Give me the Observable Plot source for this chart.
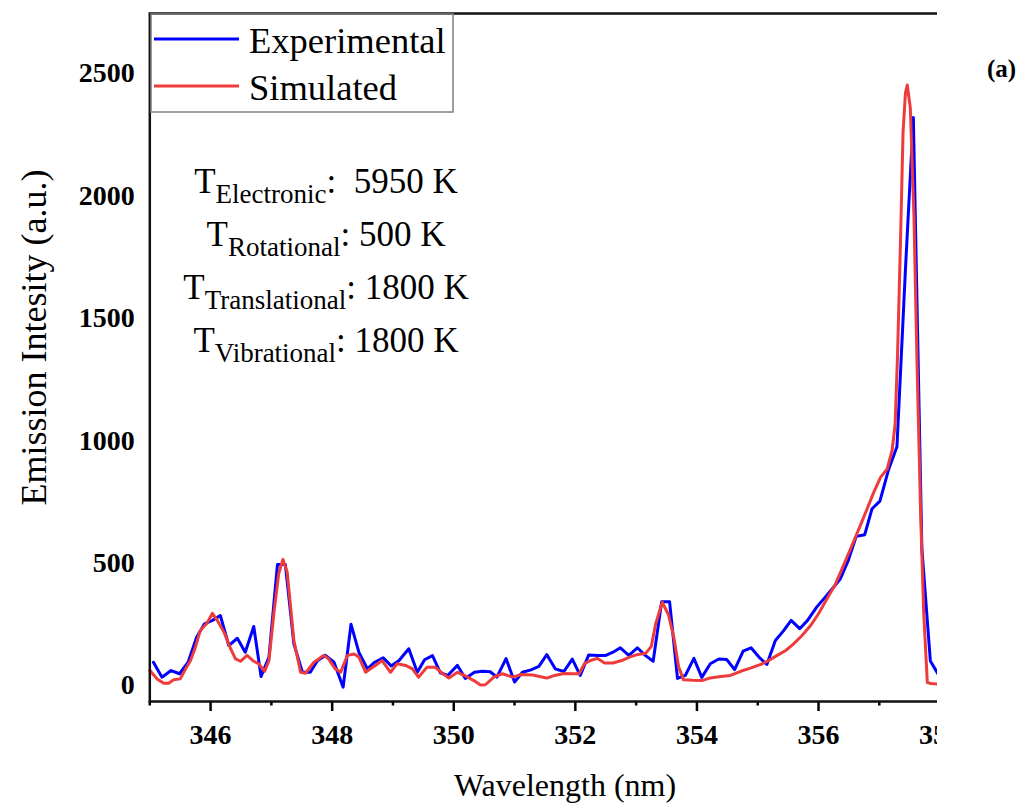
<!DOCTYPE html>
<html>
<head>
<meta charset="utf-8">
<script src="https://cdn.jsdelivr.net/npm/d3@7"></script>
<script src="https://cdn.jsdelivr.net/npm/@observablehq/plot@0.6"></script>
<style>
  html, body { margin: 0; padding: 0; background: #fff; }
  #fig { position: relative; width: 1021px; height: 806px; overflow: hidden; background: #fff;
         font-family: "Liberation Serif", "Times New Roman", serif; }
  #clip { position: absolute; left: 0; top: 0; width: 937px; height: 806px; overflow: hidden; }
  #tag { position: absolute; left: 987px; top: 56px; font-weight: bold; font-size: 25px; line-height: 25px; }
</style>
</head>
<body>
<div id="fig"><div id="clip"></div><div id="tag">(a)</div></div>
<script>
// Experimental emission spectrum (wavelength in nm, intensity in a.u.)
const expWavelength = [
  345.06, 345.20, 345.35, 345.49, 345.63, 345.77, 345.90, 346.03, 346.16, 346.30,
  346.44, 346.57, 346.71, 346.83, 346.96, 347.10, 347.23, 347.37, 347.51, 347.64,
  347.76, 347.89, 348.03, 348.18, 348.31, 348.44, 348.58, 348.70, 348.84, 348.97,
  349.10, 349.26, 349.40, 349.52, 349.65, 349.78, 349.90, 350.06, 350.19, 350.34,
  350.47, 350.60, 350.71, 350.86, 351.00, 351.13, 351.27, 351.40, 351.53, 351.67,
  351.81, 351.95, 352.08, 352.22, 352.36, 352.50, 352.62, 352.74, 352.88, 353.02,
  353.15, 353.28, 353.42, 353.55, 353.68, 353.81, 353.95, 354.08, 354.22, 354.36,
  354.49, 354.62, 354.76, 354.89, 355.02, 355.15, 355.29, 355.42, 355.55, 355.69,
  355.82, 355.97, 356.11, 356.24, 356.36, 356.49, 356.62, 356.76, 356.88, 357.01,
  357.15, 357.29, 357.43, 357.56, 357.70, 357.84, 357.97
];
const expIntensity = [
  95, 34, 61, 48, 95, 197, 252, 266, 286, 163,
  193, 136, 241, 37, 116, 494, 494, 170, 54, 54,
  102, 123, 95, -7, 250, 135, 68, 95, 113, 80,
  102, 150, 54, 105, 122, 52, 41, 82, 29, 54,
  58, 56, 34, 110, 14, 54, 64, 78, 126, 68,
  57, 108, 41, 125, 123, 123, 136, 154, 123, 154,
  123, 99, 342, 342, 29, 41, 111, 33, 89, 108,
  106, 65, 140, 154, 116, 86, 184, 222, 266, 232,
  266, 320, 361, 399, 436, 511, 609, 616, 722, 753,
  880, 975, 1700, 2320, 560, 100, 45
];

// Simulated spectrum
const simWavelength = [
  345.00, 345.04, 345.12, 345.23, 345.31, 345.39, 345.50, 345.59, 345.67, 345.75,
  345.83, 345.94, 346.03, 346.11, 346.22, 346.33, 346.41, 346.49, 346.60, 346.71,
  346.79, 346.89, 346.96, 347.04, 347.12, 347.19, 347.26, 347.37, 347.48, 347.56,
  347.70, 347.86, 347.94, 348.05, 348.14, 348.25, 348.36, 348.44, 348.55, 348.63,
  348.71, 348.82, 348.96, 349.07, 349.21, 349.32, 349.42, 349.56, 349.70, 349.81,
  349.92, 350.06, 350.20, 350.33, 350.44, 350.52, 350.66, 350.80, 350.97, 351.11,
  351.30, 351.43, 351.53, 351.66, 351.81, 351.95, 352.06, 352.15, 352.25, 352.36,
  352.48, 352.62, 352.76, 352.90, 353.03, 353.16, 353.25, 353.32, 353.43, 353.53,
  353.62, 353.70, 353.78, 353.93, 354.08, 354.22, 354.39, 354.55, 354.72, 354.88,
  355.05, 355.18, 355.32, 355.46, 355.59, 355.73, 355.87, 356.00, 356.14, 356.28,
  356.41, 356.55, 356.69, 356.80, 356.91, 357.02, 357.13, 357.21, 357.26, 357.30,
  357.35, 357.39, 357.43, 357.46, 357.51, 357.57, 357.62, 357.68, 357.73, 357.79,
  357.85, 357.97
];
const simIntensity = [
  62, 50, 27, 9, 9, 23, 27, 68, 102, 156,
  225, 254, 295, 266, 218, 150, 109, 99, 123, 99,
  89, 58, 102, 293, 456, 515, 463, 184, 54, 50,
  95, 123, 109, 68, 54, 123, 129, 116, 54, 68,
  82, 102, 54, 89, 82, 68, 34, 75, 74, 50,
  31, 54, 38, 20, 2, 3, 34, 48, 34, 45,
  43, 36, 30, 41, 49, 48, 48, 89, 102, 111,
  92, 92, 102, 117, 127, 132, 160, 250, 340, 290,
  197, 75, 23, 21, 20, 31, 37, 41, 58, 71,
  86, 102, 123, 143, 170, 204, 245, 293, 354, 415,
  490, 572, 655, 722, 790, 850, 885, 960, 1066, 1350,
  1831, 2257, 2420, 2453, 2359, 1917, 1321, 700, 299, 12,
  8, 6
];

const xMajorTicks = [346, 348, 350, 352, 354, 356, 358];
const xMinorTicks = [345, 347, 349, 351, 353, 355, 357];
const yTicks = [0, 500, 1000, 1500, 2000, 2500];

const seriesNames = ["Experimental", "Simulated"];
const seriesColors = ["#0000ff", "#ee3b3b"];

const tempNames = ["Electronic", "Rotational", "Translational", "Vibrational"];
const tempSeparators = [":  ", ": ", ": ", ": "];
const tempValues = ["5950 K", "500 K", "1800 K", "1800 K"];

const xTitle = "Wavelength (nm)";
const yTitle = "Emission Intesity (a.u.)";

const FONT = '"Liberation Serif", "Times New Roman", serif';
const W = 1021, H = 806;

const experimental = expWavelength.map((x, i) => ({x, y: expIntensity[i]}));
const simulated = simWavelength.map((x, i) => ({x, y: simIntensity[i]}));

const chart = Plot.plot({
  width: W,
  height: H,
  marginLeft: 149.3,
  marginRight: W - 939.6,
  marginTop: 13,
  marginBottom: H - 701,
  style: {fontFamily: FONT, background: "#fff", maxWidth: "none", overflow: "visible", color: "#000"},
  x: {domain: [345, 358], label: null},
  y: {domain: [-65.4, 2745], label: null},
  marks: [
    Plot.line(experimental, {x: "x", y: "y", stroke: seriesColors[0], strokeWidth: 3, strokeLinejoin: "round"}),
    Plot.line(simulated, {x: "x", y: "y", stroke: seriesColors[1], strokeWidth: 3, strokeLinejoin: "round"}),
    Plot.axisX(xMajorTicks, {tickSize: 10, tickPadding: 13, fontSize: 28, fontWeight: "bold",
      strokeWidth: 2.5, tickFormat: d => String(d), label: null}),
    Plot.axisX(xMinorTicks, {tickSize: 4.5, tickFormat: () => "", strokeWidth: 2.5, label: null}),
    Plot.axisY(yTicks, {tickSize: 0, tickPadding: 15, fontSize: 28, fontWeight: "bold",
      tickFormat: d => String(d), label: null}),
    Plot.frame({stroke: "#111", strokeWidth: 2.5})
  ]
});

const svg = d3.select(chart);

// Axis titles
const titles = svg.append("g")
  .attr("font-family", FONT).attr("fill", "#000").attr("text-anchor", "middle");
titles.append("text")
  .attr("x", 565).attr("y", 796)
  .attr("font-size", 32)
  .text(xTitle);
titles.append("text")
  .attr("transform", "translate(46,337.5) rotate(-90)")
  .attr("font-size", 36)
  .text(yTitle);

// Legend box with the two series
const legend = svg.append("g").attr("font-family", FONT).attr("text-anchor", "start");
legend.append("rect")
  .attr("x", 151).attr("y", 14).attr("width", 302).attr("height", 98)
  .attr("fill", "none").attr("stroke", "#808080").attr("stroke-width", 1.5);
seriesNames.forEach((name, i) => {
  const cy = 39 + i * 47;
  legend.append("line")
    .attr("x1", 154).attr("x2", 239).attr("y1", cy).attr("y2", cy)
    .attr("stroke", seriesColors[i]).attr("stroke-width", 3);
  legend.append("text")
    .attr("x", 249).attr("y", cy + 13.5)
    .attr("font-size", 36.5).attr("fill", "#000")
    .text(name);
});

// Temperature annotations with subscripts
const notes = svg.append("g")
  .attr("font-family", FONT).attr("fill", "#000").attr("text-anchor", "middle");
tempNames.forEach((name, i) => {
  const t = notes.append("text")
    .attr("x", 326).attr("y", 193 + i * 53)
    .attr("font-size", 35)
    .style("white-space", "pre");
  t.append("tspan").text("T");
  t.append("tspan").attr("font-size", 27).attr("dy", 9.5).text(name);
  t.append("tspan").attr("dy", -9.5).text(tempSeparators[i] + tempValues[i]);
});

document.getElementById("clip").appendChild(chart);
</script>
</body>
</html>
